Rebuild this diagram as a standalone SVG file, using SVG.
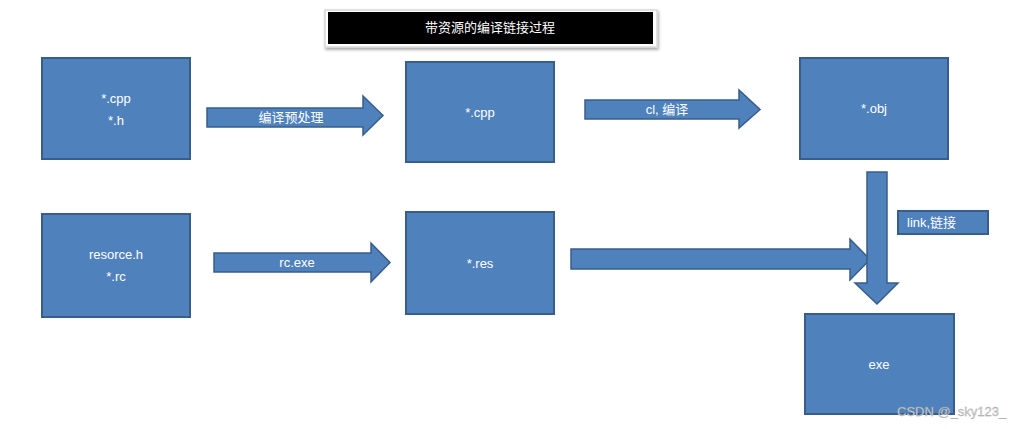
<svg xmlns="http://www.w3.org/2000/svg" width="1022" height="429" viewBox="0 0 1022 429">
<defs>
<filter id="sh" x="-5%" y="-30%" width="110%" height="160%">
<feDropShadow dx="1" dy="2" stdDeviation="1.5" flood-color="#000" flood-opacity="0.35"/>
</filter>
</defs>
<style>
.box{fill:#4F81BD;stroke:#385D8A;stroke-width:2}
.arr{fill:#4F81BD;stroke:#385D8A;stroke-width:1.5;stroke-linejoin:miter}
.t{fill:#fff;font-family:"Liberation Sans","Noto Sans CJK SC",sans-serif;font-size:13px;text-anchor:middle}
.tl{fill:#fff;font-family:"Liberation Sans","Noto Sans CJK SC",sans-serif;font-size:13px}
</style>
<rect width="1022" height="429" fill="#fff"/>
<g id="title">
<rect x="325" y="10" width="332" height="37" fill="#fff" stroke="#d8d8d8" stroke-width="1.5" filter="url(#sh)"/>
<rect x="328" y="12" width="325" height="32" fill="#000"/>
<text class="t" x="490" y="32">带资源的编译链接过程</text>
</g>
<g id="connectors">
<g id="a1">
<polygon class="arr" points="207,108 363,108 363,96 383,115.5 363,135 363,127 207,127"/>
<text class="t" x="291" y="122">编译预处理</text>
</g>
<g id="a2">
<polygon class="arr" points="585,100 739,100 739,90 760,109.5 739,128 739,119 585,119"/>
<text class="t" x="667" y="114">cl, 编译</text>
</g>
<g id="a3">
<polygon class="arr" points="214,253 371,253 371,243 390,262.5 371,282 371,272 214,272"/>
<text class="t" x="297" y="267">rc.exe</text>
</g>
<g id="a4">
<polygon class="arr" points="571,249 850,249 850,239 870,259.5 850,280 850,269 571,269"/>
</g>
<g id="a5">
<polygon class="arr" points="867,172 887,172 887,283 898,283 877,304 855,283 867,283"/>
</g>
<g id="linklabel">
<rect class="box" x="898" y="211" width="90" height="23"/>
<text class="tl" x="907" y="227">link,链接</text>
</g>
</g>
<g id="n1">
<rect class="box" x="42" y="58" width="148" height="101"/>
<text class="t" x="116" y="103">*.cpp</text>
<text class="t" x="116" y="125">*.h</text>
</g>
<g id="n2">
<rect class="box" x="406" y="62" width="148" height="100"/>
<text class="t" x="480" y="117">*.cpp</text>
</g>
<g id="n3">
<rect class="box" x="800" y="58" width="148" height="101"/>
<text class="t" x="874" y="113">*.obj</text>
</g>
<g id="n4">
<rect class="box" x="42" y="214" width="148" height="103"/>
<text class="t" x="116" y="259">resorce.h</text>
<text class="t" x="116" y="281">*.rc</text>
</g>
<g id="n5">
<rect class="box" x="406" y="212" width="148" height="102"/>
<text class="t" x="480" y="268">*.res</text>
</g>
<g id="n6">
<rect class="box" x="805" y="314" width="149" height="100"/>
<text class="t" x="879" y="369">exe</text>
</g>
<text x="897" y="416" fill="#d4d4d4" stroke="#9a9a9a" stroke-width="0.3" font-family="'Liberation Sans',sans-serif" font-size="13">CSDN @_sky123_</text>
</svg>
